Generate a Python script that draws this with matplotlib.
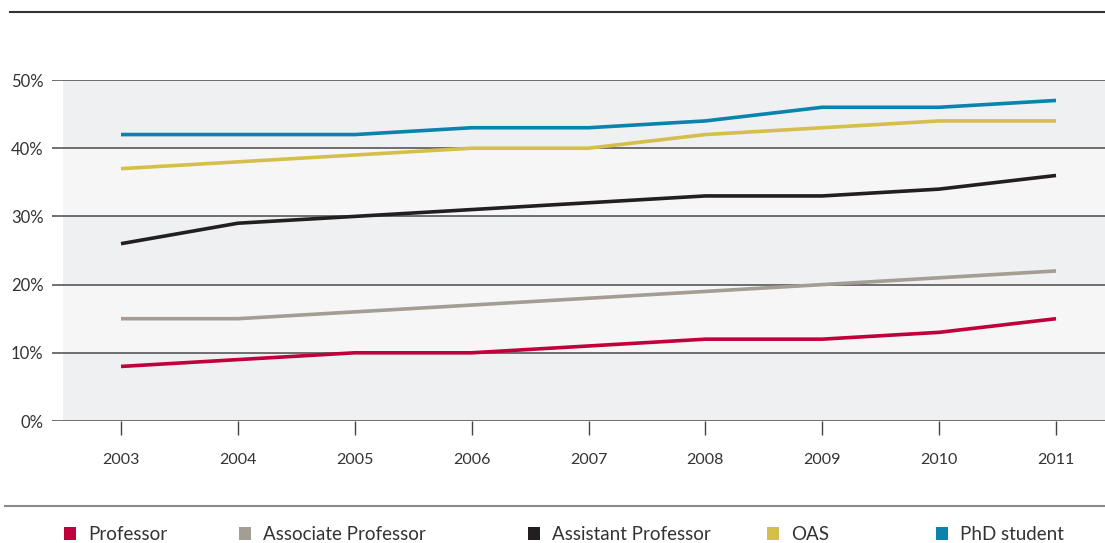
import matplotlib.pyplot as plt
from matplotlib.patches import Rectangle
from matplotlib.lines import Line2D

years = [2003, 2004, 2005, 2006, 2007, 2008, 2009, 2010, 2011]
professor = [8, 9, 10, 10, 11, 12, 12, 13, 15]
associate = [15, 15, 16, 17, 18, 19, 20, 21, 22]
assistant = [26, 29, 30, 31, 32, 33, 33, 34, 36]
oas = [37, 38, 39, 40, 40, 42, 43, 44, 44]
phd = [42, 42, 42, 43, 43, 44, 46, 46, 47]

names = ['Professor', 'Associate Professor', 'Assistant Professor', 'OAS', 'PhD student']
colors = ['#c0003c', '#a39d93', '#231f20', '#d5bf4b', '#0b83ad']
series = [professor, associate, assistant, oas, phd]
yticks = [0, 10, 20, 30, 40, 50]

plt.rcParams['font.family'] = ['Lato', 'DejaVu Sans']

W, H = 1105, 543
fig = plt.figure(figsize=(W / 100, H / 100), dpi=100)

# axes: x 52..1105 px, y 80..421 px
ax = fig.add_axes([52 / W, 1 - 421 / H, 1053 / W, 341 / H])
step = (1056 - 121) / 8
ax.set_xlim(2003 - (121 - 52) / step, 2011 + (1105 - 1056) / step)
ax.set_ylim(0, 50)

# banded background
band_start = (63 - 52) / 1053
for i, lo in enumerate(yticks[:-1]):
    c = '#eff0f2' if i % 2 == 0 else '#f6f6f6'
    ax.axhspan(lo, lo + 10, xmin=band_start, xmax=1, color=c, lw=0, zorder=0)
for y in yticks:
    ax.axhline(y, color='#4a4a4a', lw=1.1, zorder=1)

for vals, col in zip(series, colors):
    ax.plot(years, vals, color=col, lw=2.6, zorder=3, solid_capstyle='butt')

for s in ax.spines.values():
    s.set_visible(False)
ax.set_yticks(yticks)
ax.set_yticklabels([f'{v}%' for v in yticks])
ax.set_xticks(years)
ax.set_xticklabels([str(y) for y in years])
ax.tick_params(axis='y', length=0, pad=6, labelsize=12, labelcolor='#333333')
ax.tick_params(axis='x', length=10, width=1, color='#444444', pad=13,
               labelsize=11.5, labelcolor='#333333')
ax.set_facecolor('white')

# top and bottom rules
fig.add_artist(Line2D([10 / W, 1], [1 - 12 / H, 1 - 12 / H], color='#333333', lw=1.5))
fig.add_artist(Line2D([5 / W, 1], [1 - 506 / H, 1 - 506 / H], color='#8a8a8a', lw=1.5))

# legend
sq_x = [64, 239, 528, 767, 936]
for x, name, col in zip(sq_x, names, colors):
    fig.add_artist(Rectangle((x / W, 1 - 540 / H), 12 / W, 13 / H, color=col, lw=0))
    fig.text((x + 24) / W, 1 - 534 / H, name, va='center', ha='left',
             fontsize=13.5, color='#333333')

fig.savefig('out.png', dpi=100)
